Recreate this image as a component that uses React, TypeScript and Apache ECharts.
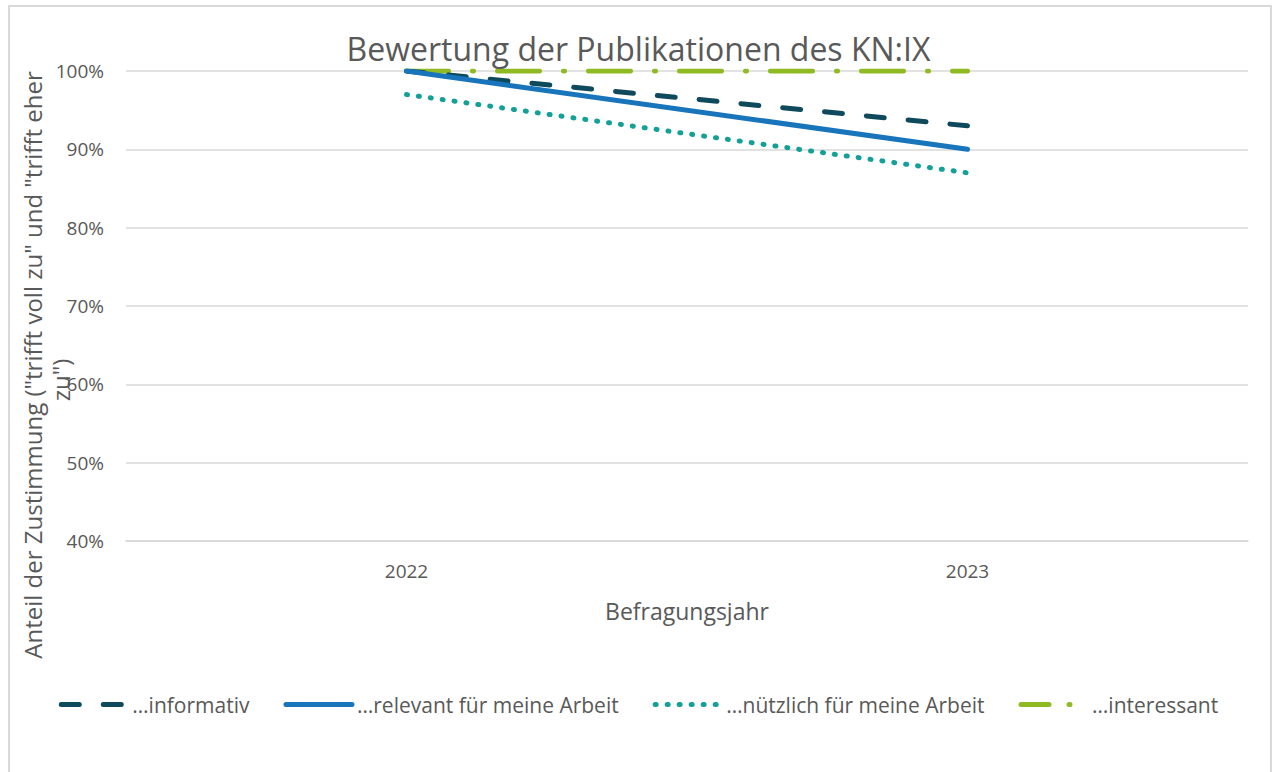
import React, { useEffect, useRef } from "react";
import * as echarts from "echarts";

const years = ["2022", "2023"];
const informativ = [100, 93];
const relevant = [100, 90];
const nuetzlich = [97, 87];
const interessant = [100, 100];
const seriesNames = [
  "…informativ",
  "…relevant für meine Arbeit",
  "…nützlich für meine Arbeit",
  "…interessant",
];
const yTicks = { min: 40, max: 100, interval: 10 };
const yNameLines = ['Anteil der Zustimmung ("trifft voll zu" und "trifft eher', 'zu")'];

const FONT = "'Open Sans', 'Noto Sans', sans-serif";
const GREY = "#595959";

export default function App() {
  const ref = useRef<HTMLDivElement>(null);
  useEffect(() => {
    const chart = echarts.init(ref.current!, null, { renderer: "svg" });
    chart.setOption({
      animation: false,
      backgroundColor: "#ffffff",
      textStyle: { fontFamily: FONT, color: GREY },
      title: {
        text: "Bewertung der Publikationen des KN:IX",
        left: "center",
        top: 27,
        textStyle: { fontFamily: FONT, fontSize: 32, fontWeight: "normal", color: GREY },
      },
      graphic: [
        {
          type: "rect",
          shape: { x: 9, y: 6, width: 1262, height: 800 },
          style: { fill: "none", stroke: "#d9d9d9", lineWidth: 2 },
          silent: true,
          z: -1,
        },
        {
          type: "text",
          x: 32,
          y: 365,
          rotation: Math.PI / 2,
          style: {
            text: yNameLines[0],
            fontFamily: FONT,
            fontSize: 24,
            fill: GREY,
            align: "center",
            verticalAlign: "middle",
          },
          silent: true,
        },
        {
          type: "text",
          x: 60,
          y: 380,
          rotation: Math.PI / 2,
          style: {
            text: yNameLines[1],
            fontFamily: FONT,
            fontSize: 24,
            fill: GREY,
            align: "center",
            verticalAlign: "middle",
          },
          silent: true,
        },
      ],
      grid: { left: 126, right: 29, top: 71, bottom: 231, containLabel: false, outerBoundsMode: "none" },
      legend: {
        bottom: 52,
        left: "center",
        itemWidth: 66,
        itemHeight: 14,
        itemGap: 34,
        itemStyle: { opacity: 0 },
        lineStyle: { width: 5, cap: "round" },
        textStyle: { fontFamily: FONT, fontSize: 21, color: GREY },
        data: [
          { name: seriesNames[0] },
          { name: seriesNames[1] },
          { name: seriesNames[2] },
          { name: seriesNames[3], lineStyle: { type: [28, 20, 1, 20], width: 5, cap: "round" } },
        ],
      },
      xAxis: {
        type: "category",
        data: years,
        boundaryGap: true,
        name: "Befragungsjahr",
        nameLocation: "middle",
        nameGap: 58,
        nameTextStyle: { fontFamily: FONT, fontSize: 23, color: GREY },
        axisLine: { show: true, lineStyle: { color: "#d9d9d9", width: 1.5 } },
        axisTick: { show: false },
        axisLabel: { fontFamily: FONT, fontSize: 19, color: GREY, margin: 20 },
      },
      yAxis: {
        type: "value",
        min: yTicks.min,
        max: yTicks.max,
        interval: yTicks.interval,
        axisLine: { show: false },
        axisTick: { show: false },
        axisLabel: { fontFamily: FONT, fontSize: 19, color: GREY, margin: 22, formatter: "{value}%" },
        splitLine: { lineStyle: { color: "#d9d9d9", width: 1.5 } },
      },
      series: [
        {
          name: seriesNames[0],
          type: "line",
          data: informativ,
          symbol: "none",
          z: 3,
          lineStyle: { color: "#0f4a5c", width: 5, type: [18, 24], cap: "round" },
          itemStyle: { color: "#0f4a5c" },
        },
        {
          name: seriesNames[1],
          type: "line",
          data: relevant,
          symbol: "none",
          z: 4,
          lineStyle: { color: "#1874bb", width: 5, type: "solid", cap: "round" },
          itemStyle: { color: "#1874bb" },
        },
        {
          name: seriesNames[2],
          type: "line",
          data: nuetzlich,
          symbol: "none",
          z: 3,
          lineStyle: { color: "#12a097", width: 5, type: [1, 11], cap: "round" },
          itemStyle: { color: "#12a097" },
        },
        {
          name: seriesNames[3],
          type: "line",
          data: interessant,
          symbol: "none",
          z: 2,
          lineStyle: { color: "#8fba22", width: 5, type: [42, 24, 1, 24], cap: "round" },
          itemStyle: { color: "#8fba22" },
        },
      ],
    });
    return () => chart.dispose();
  }, []);
  return (
    <div
      ref={ref}
      style={{ position: "fixed", left: 0, top: 0, width: 1277, height: 772 }}
    />
  );
}
